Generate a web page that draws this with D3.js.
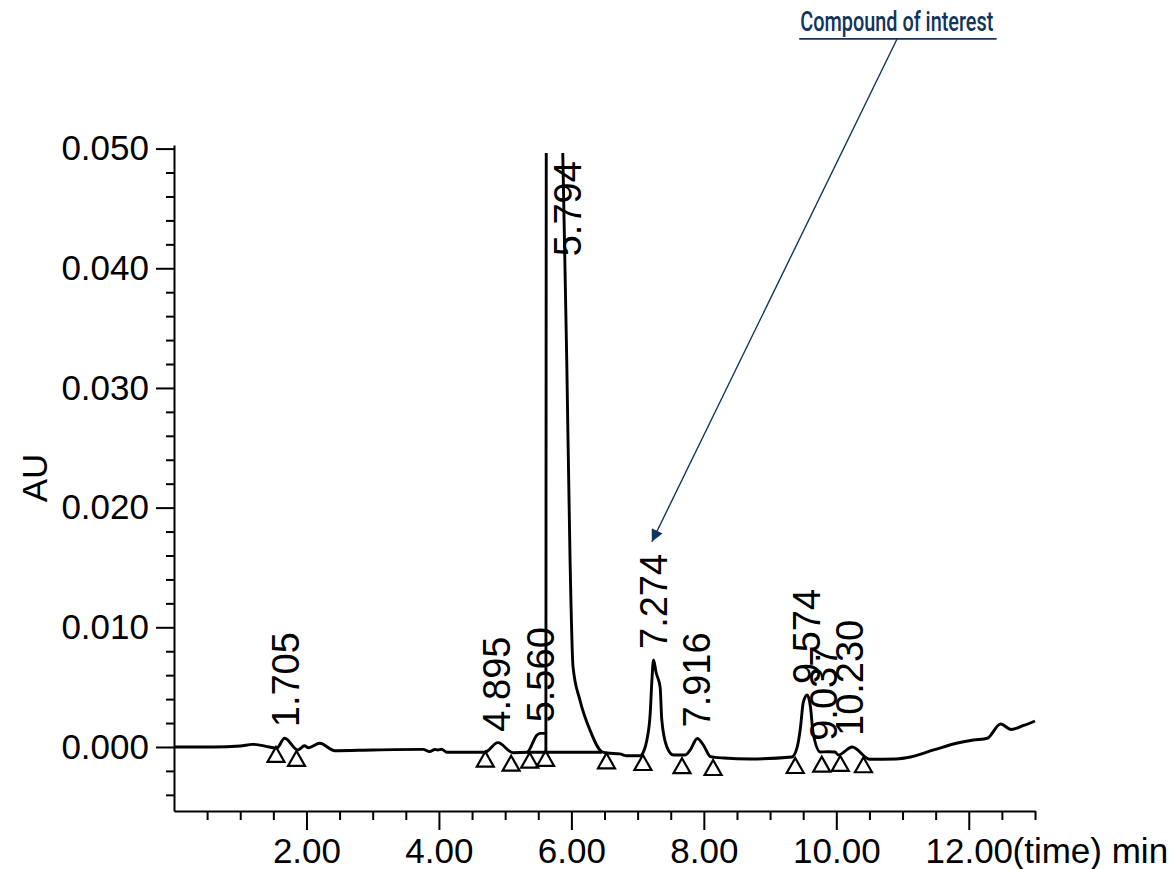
<!DOCTYPE html>
<html>
<head>
<meta charset="utf-8">
<script src="https://cdn.jsdelivr.net/npm/d3@7"></script>
<style>
  body { margin: 0; background: #fff; }
  svg { display: block; font-family: 'Liberation Sans', Arial, sans-serif; }
</style>
</head>
<body>
<div id="chart"></div>
<script>
// detector trace (time in min, absorbance in AU)
const signalTime = [0.00, 0.60, 1.00, 1.19, 1.44, 1.55, 1.67, 1.87, 1.97, 2.03, 2.20, 2.43, 3.00, 3.76, 3.86, 3.94, 3.98, 4.04, 4.12, 4.69,
                    4.89, 5.12, 5.33, 5.48, 5.53, 5.60, 5.615, 5.625, 5.68, 5.73, 5.87, 5.93, 5.98, 6.025, 6.13, 6.28, 6.46, 6.54, 6.73, 6.84,
                    7.04, 7.09, 7.14, 7.19, 7.215, 7.24, 7.28, 7.34, 7.365, 7.44, 7.54, 7.72, 7.80, 7.90, 8.00, 8.10, 8.30, 8.70,
                    9.33, 9.41, 9.46, 9.50, 9.56, 9.61, 9.65, 9.76, 9.87, 9.98, 10.03, 10.24, 10.51, 10.90, 11.12, 11.47, 11.83,
                    12.07, 12.28, 12.48, 12.64, 12.83, 13.00];
const signalAU = [0.0000, 0.0000, 0.00008, 0.00022, 0.0000, -0.0001, 0.00073, -0.00025, 0.0001, -0.00006, 0.00031, -0.00031, -0.00025, -0.0002,
                  -0.00039, -0.00021, -0.00025, -0.00019, -0.00044, -0.00044, 0.00036, -0.00048, -0.00044, 0.0010, 0.00114, 0.00114, 0.0012,
                  0.09, 0.10, 0.09, 0.0496, 0.0323, 0.0156, 0.0067, 0.0039, 0.00142, -0.0004, -0.0005, -0.00058, -0.00073,
                  -0.00073, -0.00039, 0.00058, 0.0028, 0.0055, 0.00727, 0.0062, 0.0050, 0.00226, 0.00003, -0.00067, -0.00067, -0.0002,
                  0.00071, 0.0001, -0.0008, -0.00092, -0.001, -0.00084, 0.0, 0.00167, 0.00368, 0.00434, 0.00334, 0.00117, -0.00042,
                  -0.0004, -0.00042, -0.00067, 0.0, -0.00103, -0.001, -0.00084, -0.00025, 0.00033, 0.00058, 0.00073, 0.00192,
                  0.00146, 0.0018, 0.00217];

const peakTimes = [1.705, 4.895, 5.560, 5.794, 7.274, 7.916, 9.574, 9.837, 10.230];
const peakLabels = ['1.705', '4.895', '5.560', '5.794', '7.274', '7.916', '9.574', '9.037', '10.230'];

// integration start / end markers
const markerTimes = [1.54, 1.85, 4.70, 5.09, 5.37, 5.61, 6.53, 7.08, 7.67, 8.14, 9.38, 9.78, 10.06, 10.41];
const markerAU = [0.0, -0.00033, -0.00039, -0.00073, -0.00048, -0.00033, -0.00053, -0.00067, -0.00094, -0.00109,
                  -0.00092, -0.00081, -0.00075, -0.00086];

// drawn baseline under the main peak
const baselineTimes = [5.33, 6.46];
const baselineAU = [-0.00044, -0.00044];
const dropTime = 5.615;

const xMajorTicks = [2, 4, 6, 8, 10, 12];
const yMajorTicks = [0, 0.01, 0.02, 0.03, 0.04, 0.05];

const annotationText = 'Compound of interest';

const width = 1174, height = 869;
const navy = '#12355e';

const svg = d3.select('#chart')
              .append('svg')
              .attr('width', width)
              .attr('height', height);

svg.append('rect')
   .attr('width', width)
   .attr('height', height)
   .attr('fill', '#fff');

const x = d3.scaleLinear()
            .domain([0, 13])
            .range([174, 1035]);

const y = d3.scaleLinear()
            .domain([-0.00535, 0.0503])
            .range([811, 145]);

const styleAxis = g => {
    g.attr('font-size', 35)
     .attr('font-family', "'Liberation Sans', Arial, sans-serif");
    g.selectAll('path, line')
     .attr('stroke', '#000')
     .attr('stroke-width', 2);
    g.selectAll('text').attr('fill', '#000');
};

// x axis
const xAxisG = svg.append('g')
                  .attr('transform', 'translate(0,' + y.range()[0] + ')')
                  .call(d3.axisBottom(x)
                          .tickValues(xMajorTicks)
                          .tickFormat(d3.format('.2f'))
                          .tickSize(19)
                          .tickPadding(8)
                          .tickSizeOuter(0))
                  .call(styleAxis);

svg.append('g')
   .attr('transform', 'translate(0,' + y.range()[0] + ')')
   .call(d3.axisBottom(x)
           .tickValues(d3.range(0.5, 13.01, 0.5).filter(v => !xMajorTicks.includes(v)))
           .tickFormat('')
           .tickSize(9))
   .call(styleAxis)
   .call(g => g.select('.domain').remove());

// y axis
svg.append('g')
   .attr('transform', 'translate(' + x(0) + ',0)')
   .call(d3.axisLeft(y)
           .tickValues(yMajorTicks)
           .tickFormat(d3.format('.3f'))
           .tickSize(18)
           .tickPadding(7)
           .tickSizeOuter(0))
   .call(styleAxis);

svg.append('g')
   .attr('transform', 'translate(' + x(0) + ',0)')
   .call(d3.axisLeft(y)
           .tickValues(d3.range(-4, 50, 2).filter(v => v % 10 !== 0).map(v => v / 1000))
           .tickFormat('')
           .tickSize(8))
   .call(styleAxis)
   .call(g => g.select('.domain').remove());

// "(time) min" runs on from the last tick label
const lastLabel = xAxisG.selectAll('.tick').filter(d => d === 12).select('text');
const lastWidth = lastLabel.node().getComputedTextLength();
svg.append('text')
   .attr('x', x(12) + lastWidth / 2)
   .attr('y', y.range()[0] + 19 + 8)
   .attr('dy', '0.71em')
   .attr('font-size', 35)
   .attr('fill', '#000')
   .text('(time) min');

svg.append('text')
   .attr('transform', 'translate(47,' + (y.range()[0] + y.range()[1]) / 2 + ') rotate(-90)')
   .attr('text-anchor', 'middle')
   .attr('font-size', 35)
   .attr('fill', '#000')
   .text('AU');

// trace, clipped just under the top of the scale
svg.append('clipPath')
   .attr('id', 'plot-clip')
   .append('rect')
   .attr('x', x(0))
   .attr('y', 153)
   .attr('width', x(13) - x(0) + 4)
   .attr('height', height - 153);

const signal = signalTime.map((t, i) => [t, signalAU[i]]);

const line = d3.line()
               .x(d => x(d[0]))
               .y(d => y(d[1]))
               .curve(d3.curveMonotoneX);

svg.append('path')
   .datum(signal)
   .attr('clip-path', 'url(#plot-clip)')
   .attr('d', line)
   .attr('fill', 'none')
   .attr('stroke', '#000')
   .attr('stroke-width', 2.9)
   .attr('stroke-linejoin', 'round');

const shoulder = d3.max(signal.filter(d => d[0] <= dropTime), d => d[1] > 0.005 ? null : d[1]);
svg.append('path')
   .attr('d', d3.line()([
        [x(baselineTimes[0]), y(baselineAU[0])],
        [x(baselineTimes[1]), y(baselineAU[1])]
   ]) + d3.line()([
        [x(dropTime), y(baselineAU[0])],
        [x(dropTime), y(shoulder)]
   ]))
   .attr('fill', 'none')
   .attr('stroke', '#000')
   .attr('stroke-width', 2.9);

// markers
svg.selectAll('.marker')
   .data(markerTimes)
   .enter()
      .append('path')
      .attr('class', 'marker')
      .attr('transform', (d, i) => 'translate(' + x(d) + ',' + y(markerAU[i]) + ')')
      .attr('d', 'M0,0L8.5,15L-8.5,15Z')
      .attr('fill', 'none')
      .attr('stroke', '#000')
      .attr('stroke-width', 2.2)
      .attr('stroke-linejoin', 'miter');

// retention time labels sit just above the apex; off-scale peaks get a fixed spot
const topAU = y.domain()[1];
const valueAt = t => {
    const i = d3.bisectLeft(signalTime, t);
    const a = signal[Math.max(i - 1, 0)], b = signal[Math.min(i, signal.length - 1)];
    return a[0] === b[0] ? a[1] : a[1] + (b[1] - a[1]) * (t - a[0]) / (b[0] - a[0]);
};
const apexOf = t => Math.max(valueAt(t), d3.max(signal.filter(d => Math.abs(d[0] - t) <= 0.05), d => d[1]) ?? -1);

svg.selectAll('.peak-label')
   .data(peakTimes)
   .enter()
      .append('text')
      .attr('class', 'peak-label')
      .attr('transform', d => {
          const apex = apexOf(d);
          const offScale = apex > topAU;
          const lx = offScale ? x(d) + 10 : x(d) - 2;
          const ly = offScale ? y(0.041) : y(apex) - 11;
          return 'translate(' + lx + ',' + ly + ') rotate(-90)';
      })
      .attr('dy', '0.36em')
      .attr('font-size', 38)
      .attr('fill', '#000')
      .text((d, i) => peakLabels[i]);

// annotation
svg.append('defs')
   .append('marker')
   .attr('id', 'arrow')
   .attr('viewBox', '0 0 10 10')
   .attr('refX', 10)
   .attr('refY', 5)
   .attr('markerWidth', 17)
   .attr('markerHeight', 12)
   .attr('markerUnits', 'userSpaceOnUse')
   .attr('orient', 'auto')
   .append('path')
   .attr('d', 'M0,0L10,5L0,10Z')
   .attr('fill', navy);

svg.append('text')
   .attr('x', x(9.456))
   .attr('y', y(0.0598))
   .attr('font-family', 'Roboto, sans-serif')
   .attr('font-weight', 500)
   .attr('font-size', 27)
   .attr('fill', navy)
   .attr('textLength', 193)
   .attr('lengthAdjust', 'spacingAndGlyphs')
   .text(annotationText);

svg.append('line')
   .attr('x1', x(9.44))
   .attr('x2', x(12.42))
   .attr('y1', y(0.05916))
   .attr('y2', y(0.05916))
   .attr('stroke', navy)
   .attr('stroke-width', 1.8);

svg.append('line')
   .attr('x1', x(10.917))
   .attr('y1', y(0.05916))
   .attr('x2', x(7.215))
   .attr('y2', y(0.01715))
   .attr('stroke', navy)
   .attr('stroke-width', 1.4)
   .attr('marker-end', 'url(#arrow)');
</script>
</body>
</html>
